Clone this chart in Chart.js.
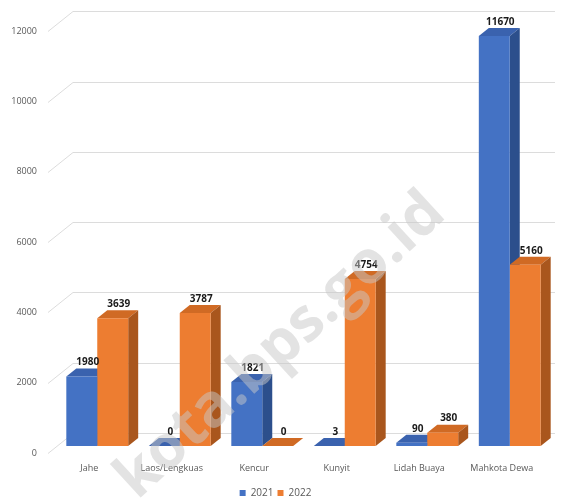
<!DOCTYPE html>
<html>
<head>
<meta charset="utf-8">
<script src="https://cdn.jsdelivr.net/npm/chart.js@4.4.1/dist/chart.umd.min.js"></script>
<style>
  html, body { margin: 0; padding: 0; background: #fff; }
  canvas { display: block; }
</style>
</head>
<body>
<canvas id="chart" width="564" height="503"></canvas>
<script>
// data
const categories = ['Jahe', 'Laos/Lengkuas', 'Kencur', 'Kunyit', 'Lidah Buaya', 'Mahkota Dewa'];
const values2021 = [1980, 0, 1821, 3, 90, 11670];
const values2022 = [3639, 3787, 0, 4754, 380, 5160];
const yTicks = [0, 2000, 4000, 6000, 8000, 10000, 12000];

const FONT = "'Open Sans', 'Liberation Sans', sans-serif";
const DX = 10, DY = -8;          // bar depth
const WALL_DX = 25, WALL_DY = -20; // back wall offset from the front plane

const faces = [
  { front: '#4472C4', top: '#3A62AE', side: '#2C4F8C' },
  { front: '#ED7D31', top: '#D06A24', side: '#A9561D' }
];

// 3d look: back-wall grid + bar top/side faces drawn underneath the fronts
const depthPlugin = {
  id: 'depth',
  beforeDatasetsDraw(chart) {
    const ctx = chart.ctx;
    const y = chart.scales.y;
    const area = chart.chartArea;
    ctx.save();
    ctx.strokeStyle = '#dcdcdc';
    ctx.lineWidth = 1;
    yTicks.forEach(v => {
      const py = Math.round(y.getPixelForValue(v)) + 0.5;
      ctx.beginPath();
      ctx.moveTo(area.left - 8, py + 7);
      ctx.lineTo(area.left - 8 + WALL_DX, py + 7 + WALL_DY);
      ctx.lineTo(area.right + 4, py + 7 + WALL_DY);
      ctx.stroke();
    });
    chart.data.datasets.forEach((ds, di) => {
      const meta = chart.getDatasetMeta(di);
      meta.data.forEach(bar => {
        const l = bar.x - bar.width / 2, r = bar.x + bar.width / 2;
        const t = bar.y, b = bar.base;
        // top
        ctx.fillStyle = faces[di].top;
        ctx.beginPath();
        ctx.moveTo(l, t);
        ctx.lineTo(l + DX, t + DY);
        ctx.lineTo(r + DX, t + DY);
        ctx.lineTo(r, t);
        ctx.closePath();
        ctx.fill();
        // side
        ctx.fillStyle = faces[di].side;
        ctx.beginPath();
        ctx.moveTo(r, t);
        ctx.lineTo(r + DX, t + DY);
        ctx.lineTo(r + DX, b + DY);
        ctx.lineTo(r, b);
        ctx.closePath();
        ctx.fill();
      });
    });
    ctx.restore();
  },
  afterDatasetsDraw(chart) {
    const ctx = chart.ctx;
    ctx.save();
    ctx.font = 'bold 10px ' + FONT;
    ctx.fillStyle = '#1a1a1a';
    ctx.textAlign = 'center';
    ctx.textBaseline = 'bottom';
    chart.data.datasets.forEach((ds, di) => {
      chart.getDatasetMeta(di).data.forEach((bar, i) => {
        ctx.fillText(String(ds.data[i]), bar.x + 6, bar.y + DY - 1);
      });
    });
    ctx.restore();
  },
  afterDraw(chart) {
    const ctx = chart.ctx;
    ctx.save();
    ctx.translate(281, 346);
    ctx.rotate(-42.5 * Math.PI / 180);
    ctx.font = 'bold 60px ' + FONT;
    ctx.fillStyle = 'rgba(200,200,200,0.5)';
    ctx.textAlign = 'center';
    ctx.textBaseline = 'middle';
    ctx.fillText('kota.bps.go.id', 0, 0);
    ctx.restore();
  }
};

new Chart(document.getElementById('chart'), {
  type: 'bar',
  data: {
    labels: categories,
    datasets: [
      { label: '2021', data: values2021, backgroundColor: faces[0].front },
      { label: '2022', data: values2022, backgroundColor: faces[1].front }
    ]
  },
  options: {
    responsive: false,
    animation: false,
    barPercentage: 1,
    categoryPercentage: 0.75,
    layout: { padding: { top: 22, right: 13, left: 0, bottom: -5 } },
    scales: {
      x: {
        grid: { display: false, drawTicks: false },
        border: { display: false },
        ticks: { color: '#595959', font: { family: FONT, size: 9 }, padding: 17, labelOffset: -8, maxRotation: 0, autoSkip: false },
        afterFit: s => { s.height = 38; }
      },
      y: {
        min: 0,
        max: 12000,
        grid: { display: false, drawTicks: false },
        border: { display: false },
        afterBuildTicks: s => { s.ticks = yTicks.map(v => ({ value: v })); },
        ticks: { color: '#595959', font: { family: FONT, size: 9 }, padding: 19, labelOffset: 7, callback: v => String(v) },
        afterFit: s => { s.width = 56; }
      }
    },
    plugins: {
      legend: {
        position: 'bottom',
        labels: {
          color: '#595959',
          font: { family: FONT, size: 10 },
          boxWidth: 6,
          boxHeight: 6,
          padding: 4
        }
      },
      tooltip: { enabled: false }
    }
  },
  plugins: [depthPlugin]
});
</script>
</body>
</html>
